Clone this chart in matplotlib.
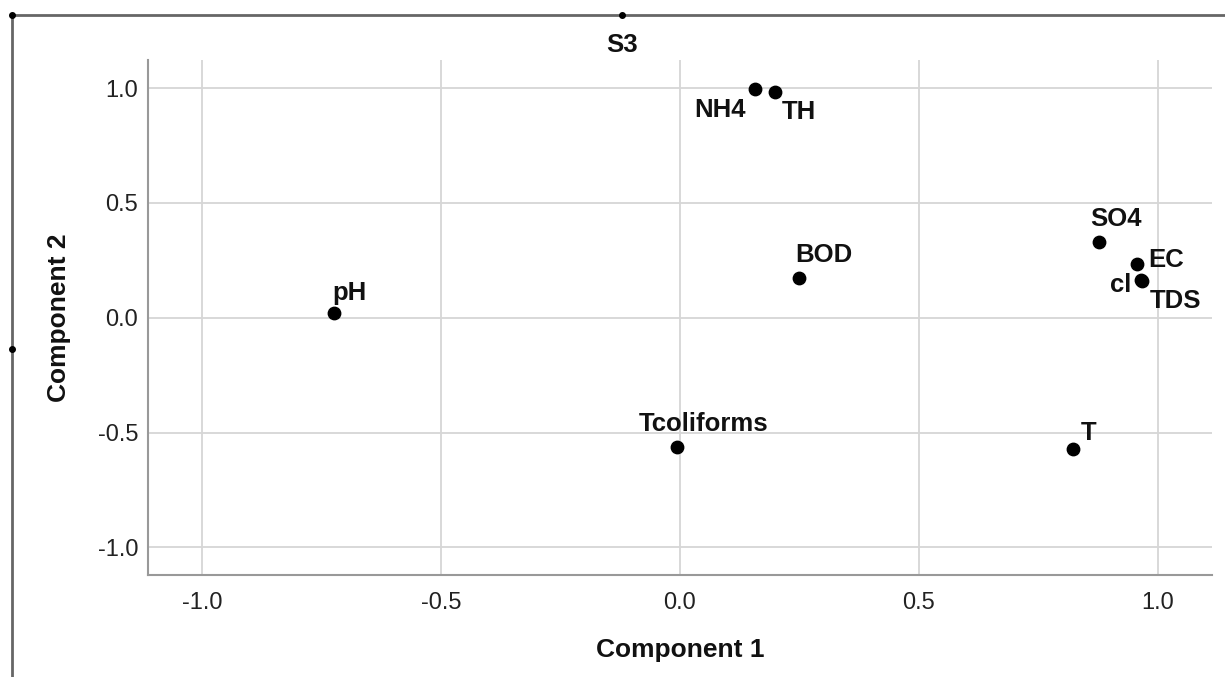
import matplotlib
matplotlib.use('Agg')
import matplotlib.pyplot as plt
from matplotlib.lines import Line2D

plt.rcParams['font.family'] = ['Liberation Sans', 'DejaVu Sans']

# Component loadings
variables = ['NH4', 'TH', 'SO4', 'EC', 'cl', 'TDS', 'BOD', 'pH', 'Tcoliforms', 'T']
comp1 = [0.157, 0.199, 0.877, 0.956, 0.964, 0.966, 0.249, -0.724, -0.006, 0.822]
comp2 = [0.996, 0.983, 0.330, 0.235, 0.165, 0.160, 0.174, 0.022, -0.561, -0.570]

ticks = [-1.0, -0.5, 0.0, 0.5, 1.0]
tick_labels = ['-1.0', '-0.5', '0.0', '0.5', '1.0']

# label offsets in pixels, picked to sit where the original labels sit
offsets = {
    'NH4': (-35, -21), 'TH': (24, -20), 'SO4': (17, 23), 'EC': (29, 4),
    'cl': (-20, -5), 'TDS': (34, -20), 'BOD': (25, 23), 'pH': (16, 20),
    'Tcoliforms': (26, 23), 'T': (16, 16),
}

fig = plt.figure(figsize=(12.25, 6.77), dpi=100)
ax = fig.add_axes([148 / 1225, 1 - 575 / 677, (1212 - 148) / 1225, (575 - 60) / 677])

ax.scatter(comp1, comp2, s=80, color='black', zorder=3)
for name, x, y in zip(variables, comp1, comp2):
    dx, dy = offsets[name]
    ax.annotate(name, (x, y), xytext=(dx, dy), textcoords='offset pixels',
                ha='center', va='center', fontsize=18.5, fontweight='bold',
                color='#111111')

ax.set_xlim(-1.113, 1.113)
ax.set_ylim(-1.12, 1.122)
ax.set_xticks(ticks)
ax.set_xticklabels(tick_labels)
ax.set_yticks(ticks)
ax.set_yticklabels(tick_labels)
ax.tick_params(length=0, labelsize=17, labelcolor='#222222')
ax.tick_params(axis='x', pad=12)
ax.tick_params(axis='y', pad=7)
ax.grid(True, color='#d6d6d6', linewidth=1.3)
ax.set_axisbelow(True)

for s in ['top', 'right']:
    ax.spines[s].set_visible(False)
for s in ['left', 'bottom']:
    ax.spines[s].set_color('#999999')
    ax.spines[s].set_linewidth(1.5)

ax.set_xlabel('Component 1', fontsize=19, fontweight='bold', color='#111111')
ax.set_ylabel('Component 2', fontsize=19, fontweight='bold', color='#111111')
ax.xaxis.set_label_coords(0.5, -0.122)
ax.yaxis.set_label_coords(-0.072, 0.5)

# outer frame with selection handles
fx, fy = 12 / 1225, 1 - 15 / 677
fig.add_artist(Line2D([fx, 1.0], [fy, fy], transform=fig.transFigure,
                      color='#666666', linewidth=2))
fig.add_artist(Line2D([fx, fx], [fy, 0.0], transform=fig.transFigure,
                      color='#666666', linewidth=2))
fig.add_artist(Line2D([fx, 622 / 1225, fx], [fy, fy, 1 - 349 / 677],
                      transform=fig.transFigure, linestyle='none',
                      marker='o', markersize=4, color='black'))

fig.text(622 / 1225, 1 - 45 / 677, 'S3', ha='center', va='center',
         fontsize=18.5, fontweight='bold', color='#111111')

fig.savefig('out.png', dpi=100)
